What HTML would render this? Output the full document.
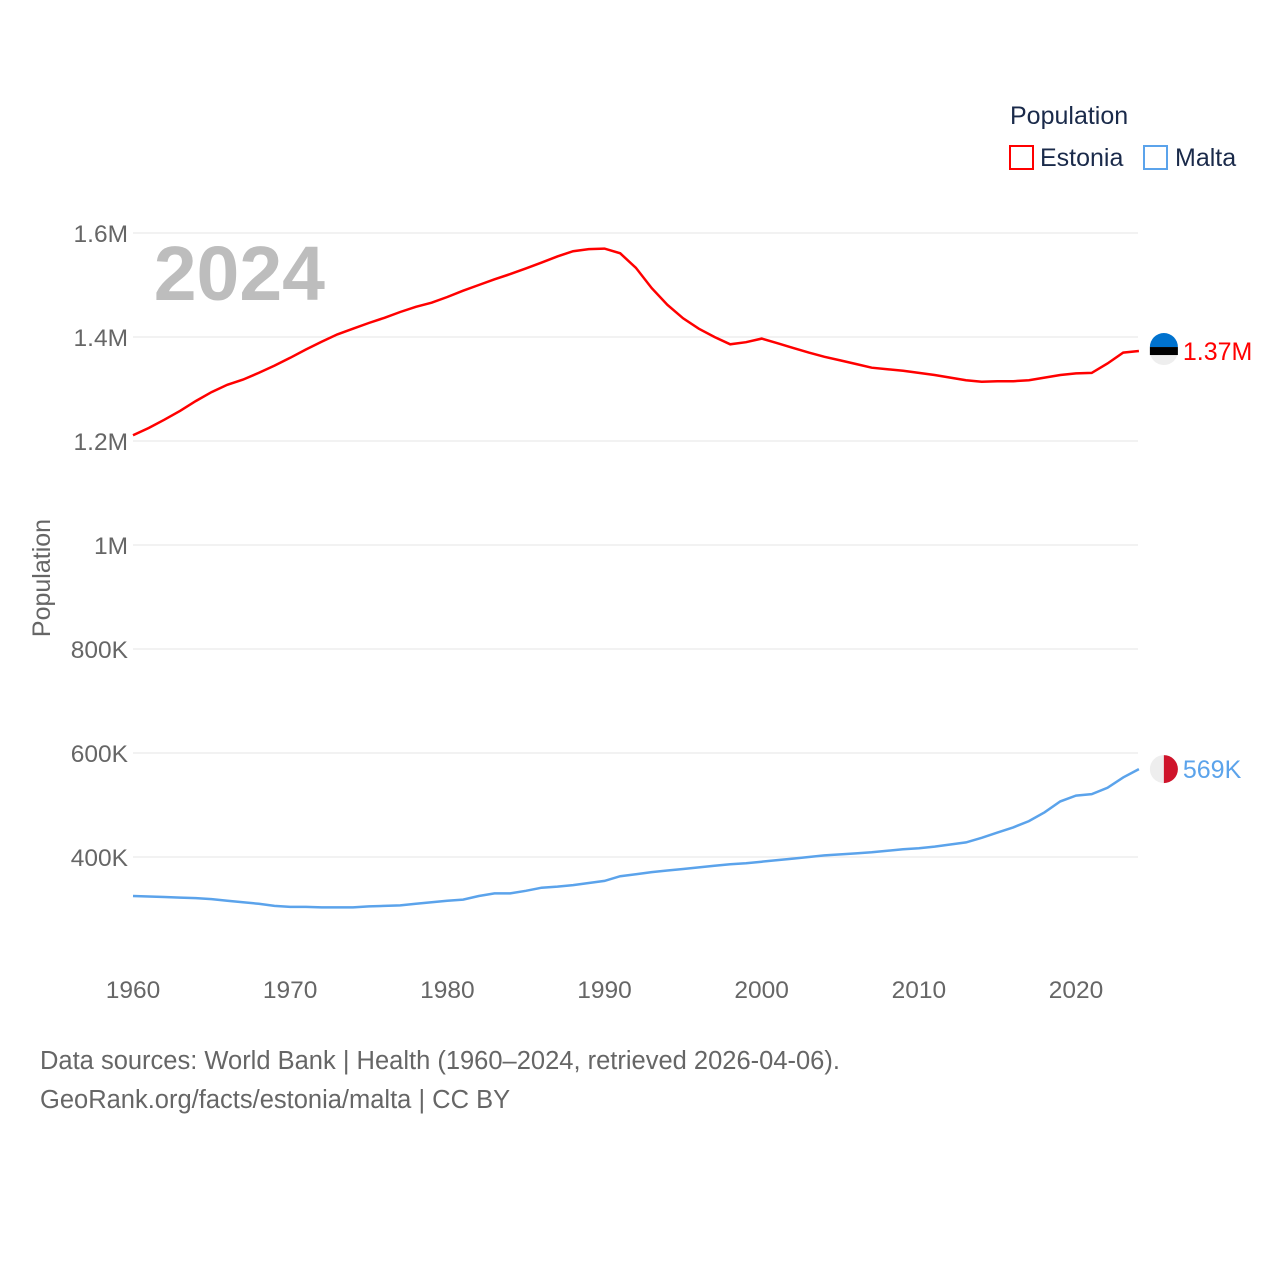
<!DOCTYPE html>
<html><head><meta charset="utf-8"><style>
body{margin:0;background:#fff;font-family:"Liberation Sans",sans-serif}
svg text{font-family:"Liberation Sans",sans-serif}
</style></head><body>
<svg width="1280" height="1280" id="chart">
<g id="grid"></g><g id="ticks"></g>
<text x="325" y="300" font-size="77" font-weight="bold" fill="#bdbdbd" text-anchor="end">2024</text>
<text transform="translate(50,578) rotate(-90)" font-size="25" fill="#666" text-anchor="middle">Population</text>
<g id="lines"></g>
<g>
<text x="1010" y="124" font-size="25" fill="#1a2a4a">Population</text>
<g><rect x="1010" y="146" width="23" height="23" fill="none" stroke="#f00" stroke-width="2"/><text x="1040" y="166" font-size="25" fill="#1a2a4a">Estonia</text></g>
<g><rect x="1144" y="146" width="23" height="23" fill="none" stroke="#5ba3eb" stroke-width="2"/><text x="1175" y="166" font-size="25" fill="#1a2a4a">Malta</text></g>
</g>
<text x="40" y="1069" font-size="25.5" fill="#666">Data sources: World Bank | Health (1960–2024, retrieved 2026-04-06).</text>
<text x="40" y="1108" font-size="25.5" fill="#666">GeoRank.org/facts/estonia/malta | CC BY</text>
</svg>
<script>
const years=[];for(let y=1960;y<=2024;y++)years.push(y);
const estonia=[1211,1225,1241,1258,1277,1294,1308,1318,1331,1345,1360,1376,1391,1405,1416,1427,1437,1448,1458,1466,1477,1489,1500,1511,1521,1532,1543,1555,1565,1569,1570,1561,1533,1494,1462,1436,1416,1400,1386,1390,1397,1388,1379,1370,1362,1355,1348,1341,1338,1335,1331,1327,1322,1317,1314,1315,1315,1317,1322,1327,1330,1331,1349,1370,1373];
const malta=[325,324,323,322,321,319,316,313,310,306,304,304,303,303,303,305,306,307,310,313,316,318,325,330,330,335,341,343,346,350,354,363,367,371,374,377,380,383,386,388,391,394,397,400,403,405,407,409,412,415,417,420,424,428,437,447,457,469,486,507,518,521,533,553,569];
const yTicks=[400,600,800,1000,1200,1400,1600];
const yTickLabels=["400K","600K","800K","1M","1.2M","1.4M","1.6M"];
const xTicks=[1960,1970,1980,1990,2000,2010,2020];
const X=y=>133+(y-1960)*15.717;
const Y=v=>857-(v-400)*0.52;
const NS="http://www.w3.org/2000/svg";
const mk=(t,a,p)=>{const e=document.createElementNS(NS,t);for(const k in a)e.setAttribute(k,a[k]);p.appendChild(e);return e;};
const grid=document.getElementById('grid'),ticks=document.getElementById('ticks'),lines=document.getElementById('lines');
yTicks.forEach((v,i)=>{
 const l=mk('line',{x1:133,x2:1138,y1:Y(v),y2:Y(v),stroke:'#e6e6e6','stroke-width':1},grid);
 
 
 const t=mk('text',{x:128,y:Y(v)+9,'font-size':24.5,fill:'#666','text-anchor':'end'},ticks);t.textContent=yTickLabels[i];
 
 
});
xTicks.forEach(v=>{
 const t=mk('text',{x:X(v),y:998,'font-size':24.5,fill:'#666','text-anchor':'middle'},ticks);t.textContent=v;
 
 
});
function series(vals,color,name,label){
 const d=vals.map((v,i)=>(i?'L':'M')+X(years[i]).toFixed(1)+','+Y(v).toFixed(1)).join('');
 const p=mk('path',{d:d,fill:'none',stroke:color,'stroke-width':2.5},lines);
 
 
 const lx=X(years[years.length-1]),ly=Y(vals[vals.length-1]);
 const c=mk('circle',{cx:lx+25,cy:ly,r:14,fill:'#eee'},lines);
 
 
 if(name==='estonia'){
  mk('path',{d:`M${lx+11},${ly-4}A14,14 0 0 1 ${lx+39},${ly-4}Z`,fill:'#0072ce'},lines);
  mk('rect',{x:lx+11,y:ly-4,width:28,height:8,fill:'#000'},lines);
 }else{
  mk('path',{d:`M${lx+25},${ly-14}A14,14 0 0 1 ${lx+25},${ly+14}Z`,fill:'#cf142b'},lines);
 }
 const t=mk('text',{x:lx+44,y:ly+9,'font-size':25,fill:color},lines);t.textContent=label;
 
 
}
series(estonia,'#ff0000','estonia','1.37M');
series(malta,'#5ba3eb','malta','569K');
</script>
</body></html>
